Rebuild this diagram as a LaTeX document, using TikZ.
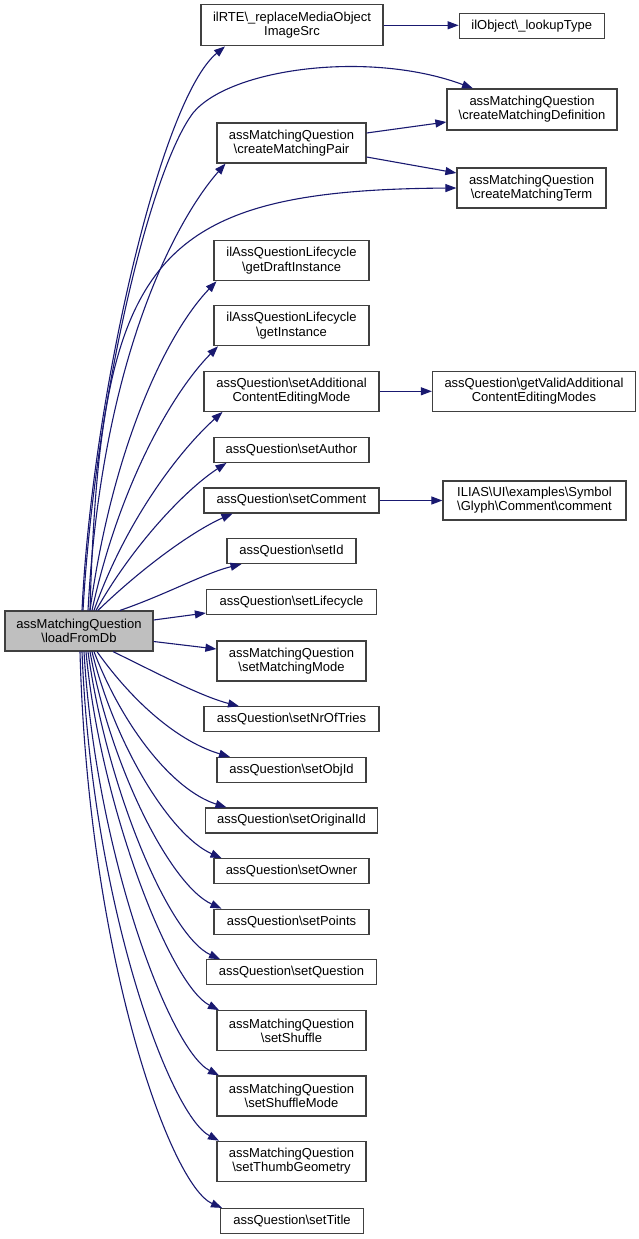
\documentclass[tikz,border=0pt]{standalone}
\usepackage{fontspec}
\setmainfont{Liberation Sans}
\usetikzlibrary{arrows.meta}
\definecolor{edgec}{HTML}{191970}
\definecolor{boxc}{HTML}{404040}
\tikzset{
  box/.style={draw=boxc, line width=1.2pt, fill=white, inner sep=0pt, align=center,
    font=\fontsize{13}{14.2}\selectfont},
  fn/.style={box, fill={rgb,255:red,191;green,191;blue,191}},
  edge/.style={draw=edgec, line width=1.1pt, -{Triangle[length=11pt,width=8pt]}}
}
\newcommand{\bs}{\textbackslash}
\begin{document}
\begin{tikzpicture}[x=1pt,y=-1pt]
\useasboundingbox (0,0) rectangle (639,1239);
% nodes (center, width, height)
\node[fn,  minimum width=148pt, minimum height=40pt] (lfd) at (79,631) {assMatchingQuestion\\\bs loadFromDb};
\node[box, minimum width=182pt, minimum height=41pt] (rte) at (292,25.3) {ilRTE\bs\_replaceMediaObject\\ImageSrc};
\node[box, minimum width=145pt, minimum height=25pt] (lut) at (531.7,25.8) {ilObject\bs\_lookupType};
\node[box, minimum width=170pt, minimum height=41pt] (cmd) at (532,109.5) {assMatchingQuestion\\\bs createMatchingDefinition};
\node[box, minimum width=149pt, minimum height=40pt] (cmp) at (291.5,143) {assMatchingQuestion\\\bs createMatchingPair};
\node[box, minimum width=149pt, minimum height=40pt] (cmt) at (531.5,188) {assMatchingQuestion\\\bs createMatchingTerm};
\node[box, minimum width=155pt, minimum height=40pt] (gdi) at (291.5,260.7) {ilAssQuestionLifecycle\\\bs getDraftInstance};
\node[box, minimum width=155pt, minimum height=40pt] (gin) at (291.5,325.7) {ilAssQuestionLifecycle\\\bs getInstance};
\node[box, minimum width=175pt, minimum height=40pt] (sac) at (291.5,391.3) {assQuestion\bs setAdditional\\ContentEditingMode};
\node[box, minimum width=203pt, minimum height=40pt] (gva) at (534,391.3) {assQuestion\bs getValidAdditional\\ContentEditingModes};
\node[box, minimum width=155pt, minimum height=25pt] (sau) at (291.5,449.8) {assQuestion\bs setAuthor};
\node[box, minimum width=175pt, minimum height=25pt] (sco) at (291.5,500.5) {assQuestion\bs setComment};
\node[box, minimum width=183pt, minimum height=39pt] (ili) at (534.5,500.5) {ILIAS\bs UI\bs examples\bs Symbol\\\bs Glyph\bs Comment\bs comment};
\node[box, minimum width=129pt, minimum height=25pt] (sid) at (291.5,551) {assQuestion\bs setId};
\node[box, minimum width=170pt, minimum height=25pt] (slc) at (291.5,602) {assQuestion\bs setLifecycle};
\node[box, minimum width=149pt, minimum height=40pt] (smm) at (291.5,661) {assMatchingQuestion\\\bs setMatchingMode};
\node[box, minimum width=175pt, minimum height=25pt] (snt) at (291.5,719.3) {assQuestion\bs setNrOfTries};
\node[box, minimum width=149pt, minimum height=25pt] (soi) at (291.5,770) {assQuestion\bs setObjId};
\node[box, minimum width=172pt, minimum height=25pt] (sor) at (291.5,820.5) {assQuestion\bs setOriginalId};
\node[box, minimum width=155pt, minimum height=25pt] (sow) at (291.5,871.3) {assQuestion\bs setOwner};
\node[box, minimum width=155pt, minimum height=25pt] (spo) at (291.5,921.7) {assQuestion\bs setPoints};
\node[box, minimum width=170pt, minimum height=25pt] (squ) at (291.5,972.3) {assQuestion\bs setQuestion};
\node[box, minimum width=149pt, minimum height=40pt] (ssh) at (291.5,1030.7) {assMatchingQuestion\\\bs setShuffle};
\node[box, minimum width=149pt, minimum height=40pt] (ssm) at (291.5,1096) {assMatchingQuestion\\\bs setShuffleMode};
\node[box, minimum width=149pt, minimum height=40pt] (stg) at (291.5,1161.3) {assMatchingQuestion\\\bs setThumbGeometry};
\node[box, minimum width=143pt, minimum height=25pt] (sti) at (292,1221) {assQuestion\bs setTitle};
\coordinate (cmdbend) at (193,113);
% edges from loadFromDb (top)
\draw[edge] ([xshift=3pt]lfd.north) .. controls (92,400) and (160,100) .. ([xshift=-67pt]rte.south);
\draw[edge] ([xshift=4pt]lfd.north) .. controls (95,400) and (150,170) .. (cmdbend)
  .. controls (230,68) and (370,50) .. ([xshift=-59pt]cmd.north);
\draw[edge] ([xshift=9pt]lfd.north) .. controls (102,350) and (180,215) .. ([xshift=-66pt]cmp.south);
\draw[edge] ([xshift=11pt]lfd.north) .. controls (100,260) and (150,190) .. (cmt.west);
\draw[edge] ([xshift=11pt]lfd.north) .. controls (112,450) and (165,335) .. ([xshift=-75pt]gdi.south);
\draw[edge] ([xshift=13pt]lfd.north) .. controls (118,490) and (170,395) .. ([xshift=-73.5pt]gin.south);
\draw[edge] ([xshift=15pt]lfd.north) .. controls (126,520) and (180,450) .. ([xshift=-69pt]sac.south);
\draw[edge] ([xshift=17pt]lfd.north) .. controls (133,545) and (185,490) .. ([xshift=-65pt]sau.south);
\draw[edge] ([xshift=19pt]lfd.north) .. controls (145,565) and (195,530) .. ([xshift=-59pt]sco.south);
\draw[edge] ([xshift=41pt]lfd.north) .. controls (165,595) and (205,573) .. ([xshift=-50pt]sid.south);
% side edges
\draw[edge] ([yshift=11pt]lfd.east) -- ([yshift=-11pt]slc.west);
\draw[edge] ([yshift=-10.5pt]lfd.east) -- ([yshift=12pt]smm.west);
% edges from loadFromDb (bottom)
\draw[edge] ([xshift=34pt]lfd.south) .. controls (155,672) and (200,696) .. ([xshift=-52.5pt]snt.north);
\draw[edge] ([xshift=18pt]lfd.south) .. controls (135,705) and (180,742) .. ([xshift=-61.5pt]soi.north);
\draw[edge] ([xshift=15pt]lfd.south) .. controls (122,725) and (172,790) .. ([xshift=-65pt]sor.north);
\draw[edge] ([xshift=13pt]lfd.south) .. controls (115,745) and (170,835) .. ([xshift=-70pt]sow.north);
\draw[edge] ([xshift=11pt]lfd.south) .. controls (110,765) and (170,885) .. ([xshift=-70pt]spo.north);
\draw[edge] ([xshift=9pt]lfd.south) .. controls (106,785) and (168,935) .. ([xshift=-71.5pt]squ.north);
\draw[edge] ([xshift=7pt]lfd.south) .. controls (100,805) and (170,985) .. ([xshift=-72.5pt]ssh.north);
\draw[edge] ([xshift=5pt]lfd.south) .. controls (96,855) and (170,1050) .. ([xshift=-72.5pt]ssm.north);
\draw[edge] ([xshift=3pt]lfd.south) .. controls (92,905) and (170,1115) .. ([xshift=-72.5pt]stg.north);
\draw[edge] ([xshift=1pt]lfd.south) .. controls (88,955) and (170,1185) .. ([xshift=-70pt]sti.north);
% other edges
\draw[edge] (rte.east) -- (rte.east -| lut.west);
\draw[edge] ([yshift=10pt]cmp.east) -- ([yshift=-12.5pt]cmd.west);
\draw[edge] ([yshift=-14pt]cmp.east) -- ([yshift=15pt]cmt.west);
\draw[edge] (sac.east) -- (gva.west);
\draw[edge] (sco.east) -- (ili.west);
\end{tikzpicture}
\end{document}
